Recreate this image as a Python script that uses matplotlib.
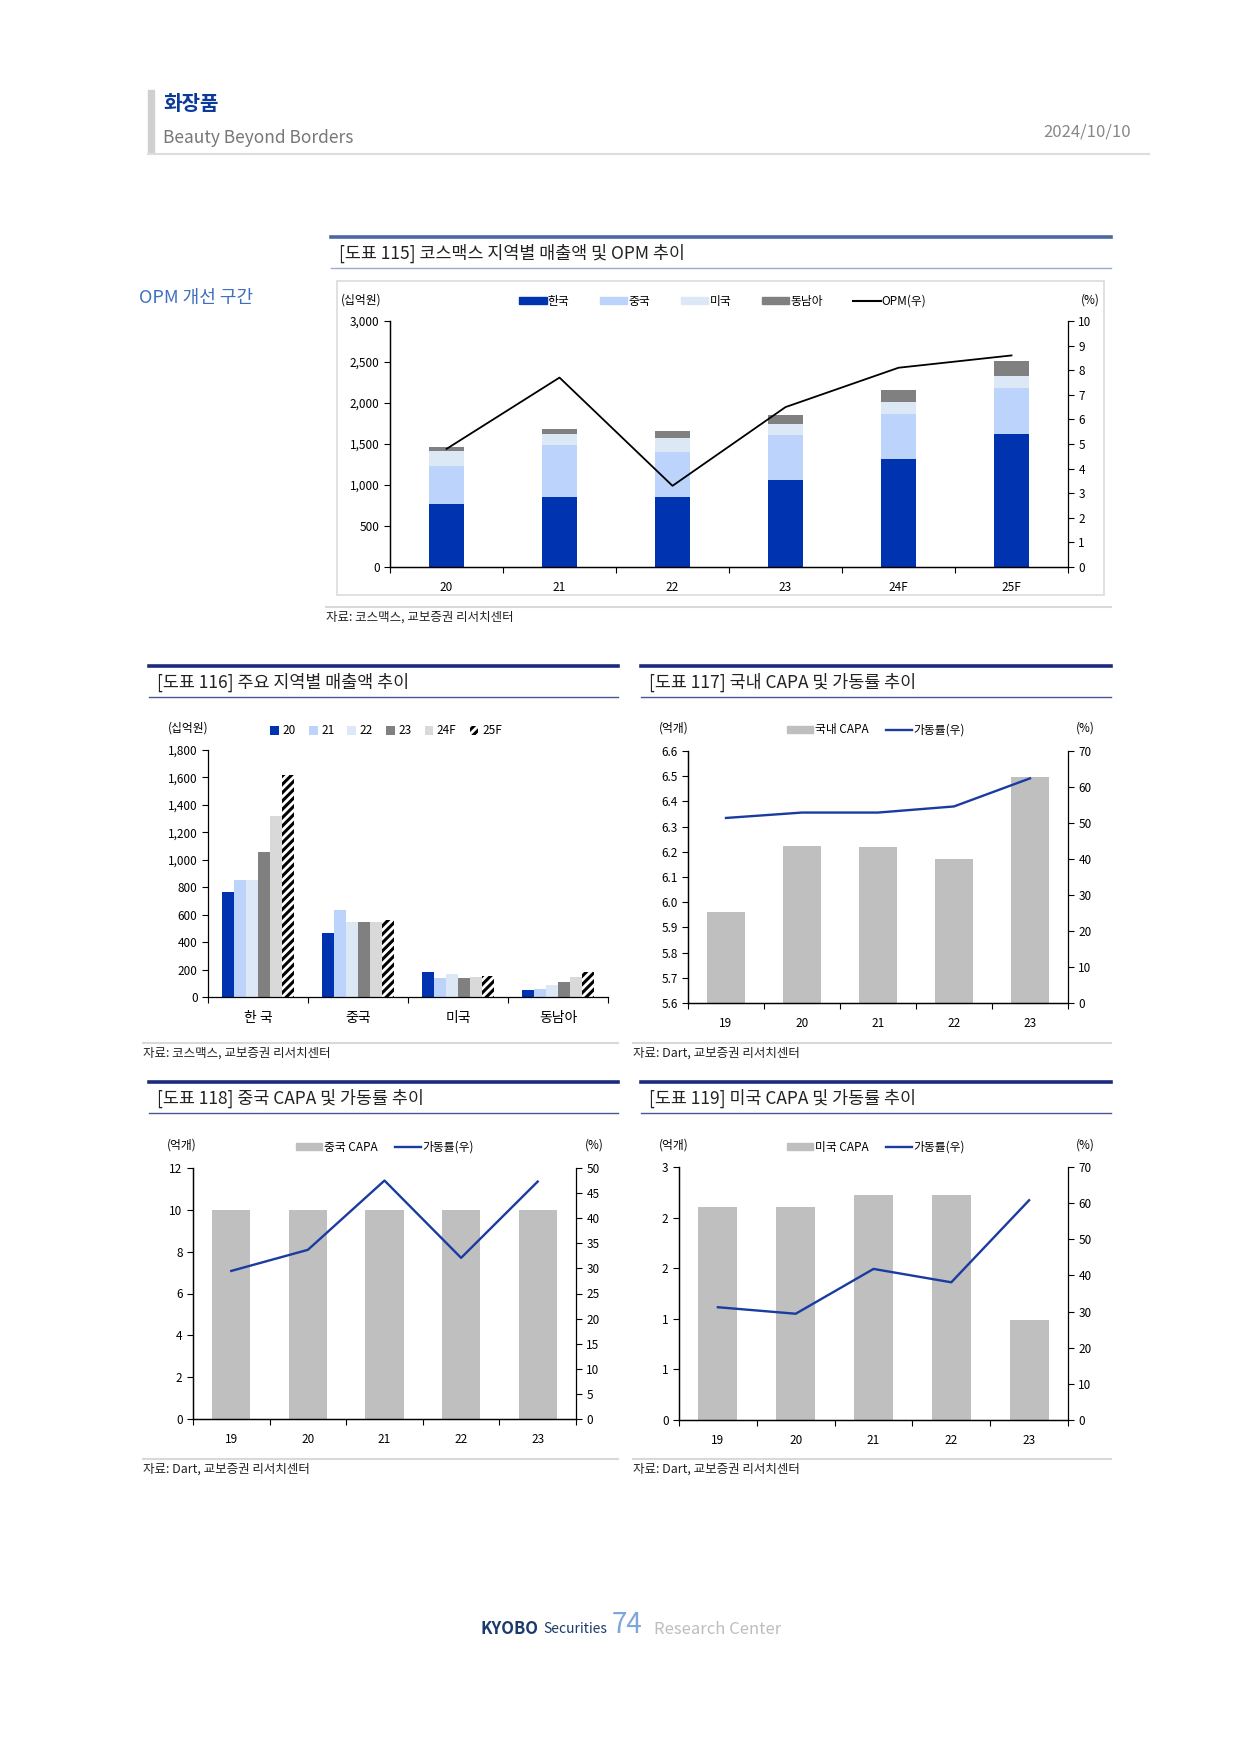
import numpy as np
import matplotlib
matplotlib.use('Agg')
import matplotlib.pyplot as plt
from matplotlib.lines import Line2D
from matplotlib.patches import Patch, Rectangle
from matplotlib.ticker import FuncFormatter

plt.rcParams['font.family'] = ['Noto Sans CJK KR', 'DejaVu Sans']
plt.rcParams['hatch.linewidth'] = 2.2
plt.rcParams['axes.linewidth'] = 0.9

# ---- data ----
years115 = ['20', '21', '22', '23', '24F', '25F']
korea = [765, 855, 855, 1056, 1320, 1616]
china = [468, 632, 548, 548, 548, 564]
usa = [184, 136, 167, 140, 145, 150]
sea = [48, 58, 87, 111, 148, 184]
opm = [4.8, 7.7, 3.3, 6.5, 8.1, 8.6]

regions = ['한 국', '중국', '미국', '동남아']
series116 = ['20', '21', '22', '23', '24F', '25F']

years_capa = ['19', '20', '21', '22', '23']
kr_capa = [5.96, 6.225, 6.22, 6.173, 6.498]
kr_util = [51.4, 52.9, 52.9, 54.6, 62.4]
cn_capa = [10.0, 10.0, 10.0, 10.0, 10.0]
cn_util = [29.5, 33.7, 47.5, 32.1, 47.3]
us_capa = [2.53, 2.53, 2.67, 2.67, 1.19]
us_util = [31.2, 29.4, 41.8, 38.1, 60.8]

C_KR = '#0033b0'
C_CN = '#bcd3fb'
C_US = '#dde8f6'
C_SEA = '#808080'
C_CAPA = '#bfbfbf'
C_LINE = '#1a3ca0'

W, H = 1241, 1755
fig = plt.figure(figsize=(W / 100, H / 100), dpi=100)


def add_ax(l, t, r, b):
    return fig.add_axes([l / W, 1 - b / H, (r - l) / W, (b - t) / H])


def ftext(x, y, s, **kw):
    kw.setdefault('va', 'center')
    fig.text(x / W, 1 - y / H, s, **kw)


def hline(x0, x1, y, color, lw):
    fig.add_artist(Line2D([x0 / W, x1 / W], [1 - y / H, 1 - y / H], color=color, lw=lw))


def style_axes(ax, ax2, n):
    ax.spines['top'].set_visible(False)
    ax2.spines['top'].set_visible(False)
    ax.spines['right'].set_visible(False)
    ax.set_xlim(-0.5, n - 0.5)
    ax.set_xticks(np.arange(-0.5, n))
    ax.set_xticklabels([])
    ax.tick_params(axis='both', labelsize=8.5, length=4)
    ax2.tick_params(axis='y', labelsize=8.5, length=4)


def block_title(x0, x1, y_top, y_bot, text, top_color, bot_color):
    hline(x0, x1, y_top, top_color, 2.6)
    hline(x0, x1, y_bot, bot_color, 1.0)
    ftext(x0 + 8, (y_top + y_bot) / 2 + 1, text, fontsize=12.5, color='#222222')


def source(x0, x1, y, text):
    hline(x0, x1, y - 10, '#d9d9d9', 1.5)
    ftext(x0, y, text, fontsize=9, color='#222222')


# ---- header ----
fig.add_artist(Rectangle((148 / W, 1 - 153 / H), 6 / W, 63 / H, color='#d0d0d0', transform=fig.transFigure))
ftext(163, 104, '화장품', fontsize=14.5, fontweight='bold', color='#0b3a9a')
ftext(163, 138, 'Beauty Beyond Borders', fontsize=12.5, color='#777777')
ftext(1131, 132, '2024/10/10', fontsize=12, color='#888888', ha='right')
hline(148, 1149, 154, '#dddddd', 1.5)

# ---- chart 115 ----
block_title(331, 1111, 237, 268, '[도표 115] 코스맥스 지역별 매출액 및 OPM 추이', '#4a67a3', '#9aaad0')
ftext(139, 298, 'OPM 개선 구간', fontsize=13, color='#3f6fbf')
fig.add_artist(Rectangle((337 / W, 1 - 595 / H), 767 / W, 314 / H, fill=False,
                         edgecolor='#dcdcdc', lw=1.2, transform=fig.transFigure))

ax = add_ax(390, 321, 1068, 567)
x = np.arange(len(years115))
bw = 0.31
bottom = np.zeros(len(x))
for vals, col in [(korea, C_KR), (china, C_CN), (usa, C_US), (sea, C_SEA)]:
    ax.bar(x, vals, bw, bottom=bottom, color=col)
    bottom += np.array(vals)
ax.set_ylim(0, 3000)
ax.set_yticks(np.arange(0, 3001, 500))
ax.yaxis.set_major_formatter(FuncFormatter(lambda v, p: f'{int(v):,}'))
ax2 = ax.twinx()
ax2.plot(x, opm, color='black', lw=1.3)
ax2.set_ylim(0, 10)
ax2.set_yticks(np.arange(0, 11, 1))
style_axes(ax, ax2, len(x))
ax.set_xticks(x, minor=True)
ax.set_xticklabels(years115, minor=True)
ax.tick_params(axis='x', which='minor', length=0, labelsize=8.5, pad=10)
handles = [Patch(color=C_KR), Patch(color=C_CN), Patch(color=C_US), Patch(color=C_SEA),
           Line2D([], [], color='black', lw=1.5)]
fig.legend(handles, ['한국', '중국', '미국', '동남아', 'OPM(우)'], loc='center', ncol=5,
           bbox_to_anchor=(723 / W, 1 - 301 / H), frameon=False, fontsize=8.5,
           handlelength=2.3, handleheight=0.6, handletextpad=0.1, columnspacing=2.6)
ftext(341, 300, '(십억원)', fontsize=8.5)
ftext(1100, 300, '(%)', fontsize=8.5, ha='right')
source(326, 1111, 617, '자료: 코스맥스, 교보증권 리서치센터')

# ---- chart 116 ----
block_title(149, 618, 666, 697, '[도표 116] 주요 지역별 매출액 추이', '#1c2a80', '#4a5596')
ax = add_ax(208, 750, 608, 997)
data116 = np.array([korea, china, usa, sea]).T  # rows: years, cols: regions
cols116 = [C_KR, C_CN, C_US, C_SEA, '#d9d9d9', 'white']
bw = 0.12
xg = np.arange(len(regions))
for i, lab in enumerate(series116):
    off = (i - 2.5) * bw
    if lab == '25F':
        ax.bar(xg + off, data116[i], bw, color='white', edgecolor='black', hatch='////', lw=0, label=lab)
    else:
        ax.bar(xg + off, data116[i], bw, color=cols116[i], label=lab)
ax.set_ylim(0, 1800)
ax.set_yticks(np.arange(0, 1801, 200))
ax.yaxis.set_major_formatter(FuncFormatter(lambda v, p: f'{int(v):,}'))
for s in ['top', 'right']:
    ax.spines[s].set_visible(False)
ax.set_xlim(-0.5, len(regions) - 0.5)
ax.set_xticks(np.arange(-0.5, len(regions)))
ax.set_xticklabels([])
ax.set_xticks(xg, minor=True)
ax.set_xticklabels(regions, minor=True)
ax.tick_params(axis='both', labelsize=8.5, length=4)
ax.tick_params(axis='x', which='minor', length=0, pad=10)
h116, l116 = ax.get_legend_handles_labels()
fig.legend(h116, l116, loc='center', ncol=6, bbox_to_anchor=(386 / W, 1 - 731 / H), frameon=False,
           fontsize=8.5, handlelength=0.75, handleheight=0.75, handletextpad=0.3, columnspacing=1.1)
ftext(168, 728, '(십억원)', fontsize=8.5)
source(143, 618, 1053, '자료: 코스맥스, 교보증권 리서치센터')


def capa_chart(l, t, r, b, capa, util, ylim, yticks, ylabfmt, y2lim, y2ticks, leg_label, leg_x, leg_y, unit_x, pct_x):
    ax = add_ax(l, t, r, b)
    xx = np.arange(len(years_capa))
    ax.bar(xx, np.array(capa) - ylim[0], 0.5, bottom=ylim[0], color=C_CAPA)
    ax.set_ylim(*ylim)
    ax.set_yticks(yticks)
    ax.yaxis.set_major_formatter(FuncFormatter(ylabfmt))
    ax2 = ax.twinx()
    ax2.plot(xx, util, color=C_LINE, lw=1.7)
    ax2.set_ylim(*y2lim)
    ax2.set_yticks(y2ticks)
    style_axes(ax, ax2, len(xx))
    ax.set_xticks(xx, minor=True)
    ax.set_xticklabels(years_capa, minor=True)
    ax.tick_params(axis='x', which='minor', length=0, labelsize=8.5, pad=10)
    h = [Patch(color=C_CAPA), Line2D([], [], color=C_LINE, lw=1.7)]
    fig.legend(h, [leg_label, '가동률(우)'], loc='center', ncol=2, bbox_to_anchor=(leg_x / W, 1 - leg_y / H),
               frameon=False, fontsize=8.5, handlelength=2.2, handleheight=0.6, handletextpad=0.1,
               columnspacing=1.5)
    ftext(unit_x, leg_y - 2, '(억개)', fontsize=8.5)
    ftext(pct_x, leg_y - 2, '(%)', fontsize=8.5, ha='right')


# ---- chart 117 ----
block_title(641, 1111, 666, 697, '[도표 117] 국내 CAPA 및 가동률 추이', '#1c2a80', '#4a5596')
capa_chart(688, 751, 1068, 1003, kr_capa, kr_util, (5.6, 6.6), np.arange(5.6, 6.61, 0.1),
           lambda v, p: f'{v:.1f}', (0, 70), np.arange(0, 71, 10), '국내 CAPA', 876, 730, 659, 1095)
source(633, 1111, 1053, '자료: Dart, 교보증권 리서치센터')

# ---- chart 118 ----
block_title(149, 618, 1082, 1113, '[도표 118] 중국 CAPA 및 가동률 추이', '#1c2a80', '#4a5596')
capa_chart(193, 1168, 576, 1419, cn_capa, cn_util, (0, 12), np.arange(0, 13, 2),
           lambda v, p: f'{v:.0f}', (0, 50), np.arange(0, 51, 5), '중국 CAPA', 385, 1147, 167, 604)
source(143, 618, 1469, '자료: Dart, 교보증권 리서치센터')

# ---- chart 119 ----
block_title(641, 1111, 1082, 1113, '[도표 119] 미국 CAPA 및 가동률 추이', '#1c2a80', '#4a5596')
capa_chart(679, 1167, 1068, 1420, us_capa, us_util, (0, 3), np.linspace(0, 3, 6),
           lambda v, p: f'{v:.0f}', (0, 70), np.arange(0, 71, 10), '미국 CAPA', 876, 1147, 659, 1095)
source(633, 1111, 1469, '자료: Dart, 교보증권 리서치센터')

# ---- footer ----
ftext(481, 1629, 'KYOBO', fontsize=12, fontweight='bold', color='#1b3a6b')
ftext(543, 1629, 'Securities', fontsize=10, color='#1b3a6b')
ftext(612, 1625, '74', fontsize=20, color='#7ea6d8')
ftext(654, 1629, 'Research Center', fontsize=12, color='#bdbdbd')

fig.savefig('out.png', dpi=100)
